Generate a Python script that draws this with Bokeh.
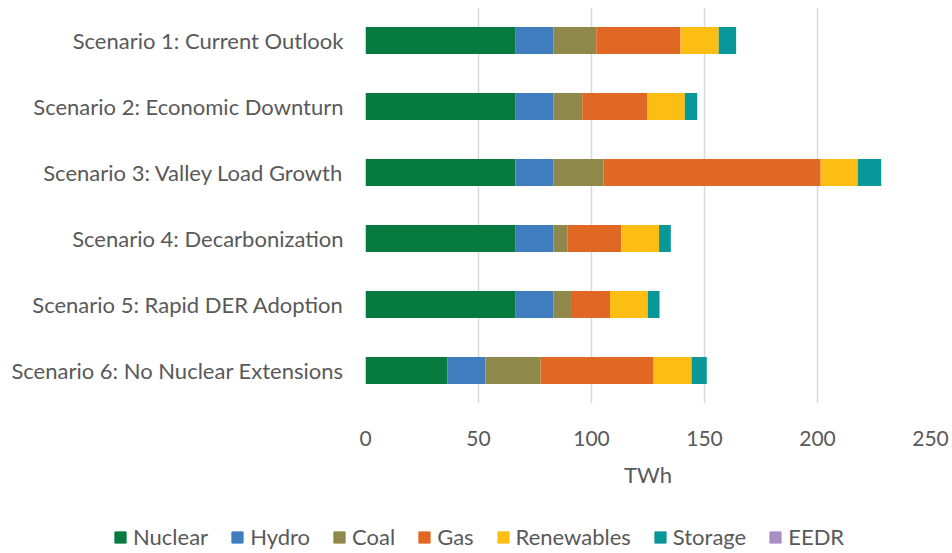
from bokeh.plotting import figure
from bokeh.layouts import column
from bokeh.models import Range1d, FactorRange, Legend, LegendItem, FixedTicker
from bokeh.embed import file_html
from bokeh.resources import INLINE

scenarios = [
    "Scenario 1: Current Outlook",
    "Scenario 2: Economic Downturn",
    "Scenario 3: Valley Load Growth",
    "Scenario 4: Decarbonization",
    "Scenario 5: Rapid DER Adoption",
    "Scenario 6: No Nuclear Extensions",
]
nuclear = [66.2, 66.2, 66.3, 66.2, 66.2, 36.3]
hydro = [16.9, 16.9, 16.8, 16.9, 16.9, 16.8]
coal = [19.0, 12.8, 22.2, 6.2, 7.8, 24.4]
gas = [37.3, 28.9, 96.1, 23.9, 17.3, 50.0]
renewables = [16.9, 16.5, 16.4, 16.7, 16.7, 16.8]
storage = [7.7, 5.5, 10.4, 5.2, 5.2, 6.7]
eedr = [0, 0, 0, 0, 0, 0]

series = ["Nuclear", "Hydro", "Coal", "Gas", "Renewables", "Storage", "EEDR"]
colors = ["#067A3F", "#407DBE", "#8F884B", "#E16724", "#FDBE14", "#089899", "#A68FC2"]
x_ticks = [0, 50, 100, 150, 200, 250]

data = dict(scenario=scenarios, Nuclear=nuclear, Hydro=hydro, Coal=coal, Gas=gas,
            Renewables=renewables, Storage=storage, EEDR=eedr)

FONT = "Lato"
GRAY = "#595959"

p = figure(width=952, height=500, output_backend="svg", toolbar_location=None,
           y_range=FactorRange(*reversed(scenarios)), x_range=Range1d(0, 250),
           min_border_left=365, min_border_right=22, min_border_top=7,
           min_border_bottom=97)
p.outline_line_color = None

renderers = p.hbar_stack(series, y="scenario", height=0.41, color=colors,
                         source=data, line_color=None)

p.xgrid.ticker = FixedTicker(ticks=x_ticks)
p.xgrid.grid_line_color = "#D9D9D9"
p.xgrid.grid_line_width = 1.5
p.ygrid.grid_line_color = None

p.xaxis.ticker = FixedTicker(ticks=x_ticks)
p.xaxis.axis_line_color = None
p.xaxis.major_tick_line_color = None
p.xaxis.minor_tick_line_color = None
p.xaxis.major_label_standoff = 21
p.xaxis.major_label_text_font = FONT
p.xaxis.major_label_text_font_size = "21px"
p.xaxis.major_label_text_color = GRAY
p.xaxis.axis_label = "TWh"
p.xaxis.axis_label_text_font = FONT
p.xaxis.axis_label_text_font_size = "22px"
p.xaxis.axis_label_text_font_style = "normal"
p.xaxis.axis_label_text_color = GRAY
p.xaxis.axis_label_standoff = 12

p.yaxis.axis_line_color = None
p.yaxis.major_tick_line_color = None
p.yaxis.minor_tick_line_color = None
p.yaxis.major_label_standoff = 16
p.yaxis.major_label_text_font = FONT
p.yaxis.major_label_text_font_size = "22px"
p.yaxis.major_label_text_color = GRAY

# legend strip under the chart
p2 = figure(width=952, height=53, output_backend="svg", toolbar_location=None,
            x_range=Range1d(0, 1), y_range=Range1d(0, 1),
            min_border_left=0, min_border_right=0, min_border_top=0,
            min_border_bottom=0)
if "frame_align" in p2.properties():
    p2.frame_align = False
    p.frame_align = False
p2.outline_line_color = None
p2.axis.visible = False
p2.grid.visible = False
legend_renderers = [p2.hbar(y=[-5], right=[-5], left=[-6], height=0.5, color=c)
                    for c in colors]

items = [LegendItem(label=s, renderers=[r]) for s, r in zip(series, legend_renderers)]
legend = Legend(items=items, orientation="horizontal", location=(113, 3),
                label_text_font=FONT, label_text_font_size="22px",
                label_text_color=GRAY, glyph_width=14, glyph_height=14,
                label_standoff=6, spacing=22, padding=0, margin=0,
                border_line_color=None, background_fill_alpha=0)
p2.add_layout(legend, "center")

layout = column(p, p2, spacing=0)
open("out.html", "w").write(file_html(layout, INLINE))
